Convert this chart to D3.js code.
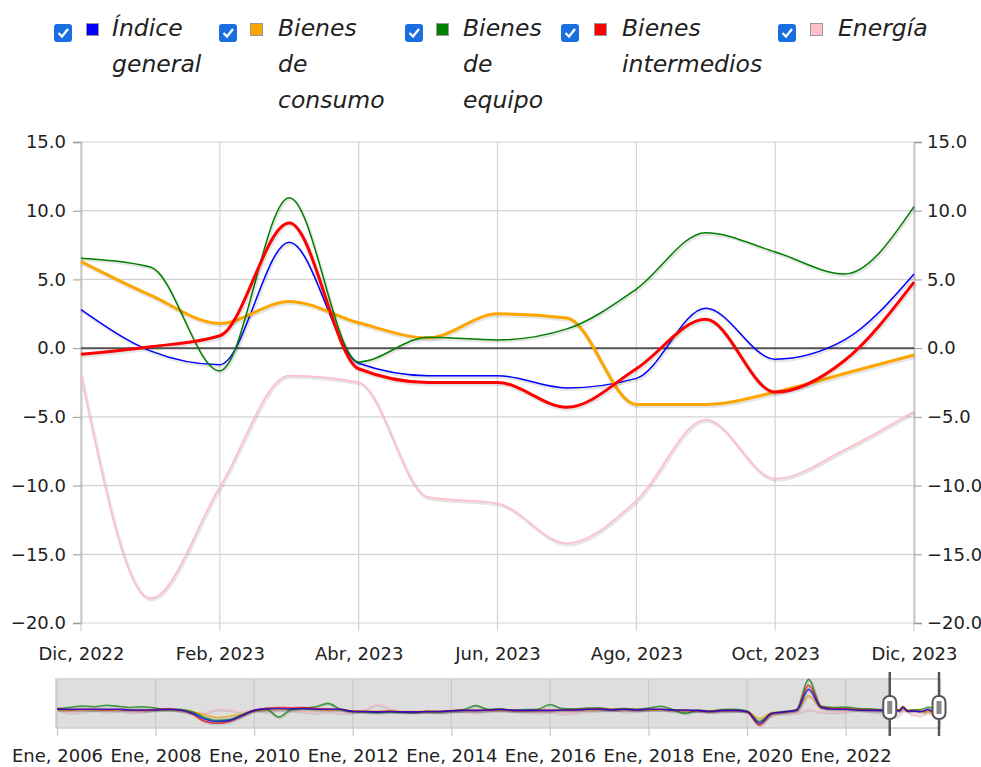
<!DOCTYPE html>
<html><head><meta charset="utf-8">
<script src="https://cdn.jsdelivr.net/npm/d3@7"></script>
<style>
body{margin:0;background:#fff;}
svg{display:block;font-family:"DejaVu Sans",Verdana,sans-serif;}
</style>
</head><body>
<svg id="c" width="981" height="767"></svg>
<script>
// ---- DATA ----
const months = ["Dic, 2022","Ene, 2023","Feb, 2023","Mar, 2023","Abr, 2023","May, 2023","Jun, 2023","Jul, 2023","Ago, 2023","Sep, 2023","Oct, 2023","Nov, 2023","Dic, 2023"];
const indiceGeneral     = [2.8, -0.2, -1.2, 7.7, -1.1, -2.0, -2.0, -2.9, -2.2, 2.9, -0.8, 0.6, 5.4];
const bienesConsumo     = [6.3, 3.85, 1.8, 3.4, 1.85, 0.75, 2.5, 2.2, -4.1, -4.1, -3.2, -1.85, -0.5];
const bienesEquipo      = [6.55, 5.9, -1.65, 10.95, -1.0, 0.8, 0.6, 1.4, 4.3, 8.4, 7.0, 5.4, 10.3];
const bienesIntermedios = [-0.45, 0.1, 0.9, 9.1, -1.5, -2.5, -2.5, -4.3, -1.5, 2.1, -3.2, -0.9, 4.8];
const energia           = [-1.95, -18.2, -10.1, -2.0, -2.5, -10.85, -11.3, -14.2, -11.1, -5.2, -9.5, -7.4, -4.6];
const yTicks = [-20, -15, -10, -5, 0, 5, 10, 15];
const xTickLabels = ["Dic, 2022","Feb, 2023","Abr, 2023","Jun, 2023","Ago, 2023","Oct, 2023","Dic, 2023"];

// navigator history (quarterly, Ene 2006 .. Oct 2022)
const navIndice = [3,3,3,3, 3,3,1,1, 1,3,1,-8, -24,-30,-27,-14, 0,4,5,4, 5,3,3,3, -3,-3,-4,-3, -4,-4,-3,-3, -1,0,0,1, 3,0,0,0, 0,1,1,3, 3,1,3,1, 3,3,1,1, 0,-3,0,0, -3,-35,-8,-4, 0,57,8,3, 3,1,0,0];
const navConsumo = [2,1,2,1, 2,1,1,0, 1,2,0,-4, -12,-19,-16,-9, -2,1,3,3, 3,2,1,1, -2,-2,-3,-2, -3,-3,-2,-2, 0,-1,0,1, 1,0,0,0, 1,1,0,2, 2,1,2,1, 2,1,1,1, 0,-1,1,0, -2,-22,-6,-3, 0,40,6,4, 5,3,2,1];
const navEquipo = [5,8,12,10, 14,11,8,10, 6,2,3,-4, -20,-27,-25,-12, 0,3,-18,2, 6,10,19,3, -3,-4,-6,-4, -5,-6,-3,-4, -1,2,13,3, 4,1,2,3, 16,5,4,6, 7,3,5,3, 6,11,2,-8, 1,-2,2,3, -2,-30,-8,-3, 2,84,12,8, 9,5,4,2];
const navIntermedios = [4,2,3,3, 2,3,1,1, 2,4,1,-10, -30,-35,-30,-16, 0,6,8,7, 8,5,4,3, -2,-3,-3,-2, -4,-4,-3,-3, -1,1,0,1, 2,0,-1,0, 0,1,2,3, 4,2,3,2, 3,3,1,0, -1,-3,-1,0, -4,-40,-10,-5, 1,68,10,5, 4,2,1,0];
const navEnergia = [4,-6,-3,2, -4,0,-5,-2, 3,6,-2,-6, -5,3,1,-4, 3,-4,2,0, -3,-6,-2,-7, -5,4,16,6, -2,-4,-3,-6, -3,-2,-5,-1, 0,-2,-4,-6, -3,-8,-6,-2, 0,3,-3,-2, 2,4,-2,-3, -2,-4,-3,-1, -3,-32,-12,-8, -6,3,-4,-5, -3,2,-2,-5];
const navTickLabels = ["Ene, 2006","Ene, 2008","Ene, 2010","Ene, 2012","Ene, 2014","Ene, 2016","Ene, 2018","Ene, 2020","Ene, 2022"];

const seriesNames = [["Índice","general"],["Bienes","de","consumo"],["Bienes","de","equipo"],["Bienes","intermedios"],["Energía"]];
const seriesColors = ["#0000ff","#ffa500","#008000","#ff0000","#ffc0cb"];
const seriesWidths = [1.5, 3, 1.5, 3, 1.8];
const seriesData = [indiceGeneral, bienesConsumo, bienesEquipo, bienesIntermedios, energia];
const navData = [navIndice, navConsumo, navEquipo, navIntermedios, navEnergia];
const legendX = [54, 219, 405, 561, 778];

// ---- DRAW ----
const svg = d3.select("#c");
const L = 81, R = 914, T = 142, B = 623;
const x = d3.scalePoint().domain(months).range([L, R]);
const y = d3.scaleLinear().domain([-20, 15]).range([B, T]);
const FS = 18;

// legend
seriesNames.forEach((nm, i) => {
  const g = svg.append("g").attr("transform", `translate(${legendX[i]},0)`);
  g.append("rect").attr("x", 0).attr("y", 24).attr("width", 18).attr("height", 18).attr("rx", 3).attr("fill", "#1a6fe0");
  g.append("path").attr("d", "M4.5,33 L8,36.5 L14,29").attr("fill", "none").attr("stroke", "#fff").attr("stroke-width", 2.3);
  const sq = [32, 31, 31, 33, 32][i];
  g.append("rect").attr("x", sq + 0.5).attr("y", 23.5).attr("width", 12).attr("height", 12).attr("fill", seriesColors[i]).attr("stroke", "#999").attr("stroke-width", 1);
  const tx = [58, 59, 58, 61, 60][i];
  nm.forEach((w, j) => {
    g.append("text").attr("x", tx).attr("y", 36 + j * 36).attr("font-size", 23.5).attr("font-style", "italic").attr("fill", "#222").text(w);
  });
});

// grid
const grid = svg.append("g");
yTicks.forEach(v => grid.append("line").attr("x1", L).attr("x2", R).attr("y1", y(v)).attr("y2", y(v)).attr("stroke", "#d3d3d3").attr("stroke-width", 1.2));
xTickLabels.forEach(m => grid.append("line").attr("x1", x(m)).attr("x2", x(m)).attr("y1", T).attr("y2", B + 8).attr("stroke", "#d3d3d3").attr("stroke-width", 1.2));

// axes
const fmt = d3.format(".1f");
const axL = svg.append("g").attr("transform", `translate(${L},0)`).call(d3.axisLeft(y).tickValues(yTicks).tickFormat(fmt).tickSize(8).tickPadding(7));
const axR = svg.append("g").attr("transform", `translate(${R},0)`).call(d3.axisRight(y).tickValues(yTicks).tickFormat(fmt).tickSize(8).tickPadding(5));
const axB = svg.append("g").attr("transform", `translate(0,${B})`).call(d3.axisBottom(x).tickValues(xTickLabels).tickSize(0).tickPadding(24));
[axL, axR, axB].forEach(a => {
  a.selectAll("text").attr("font-size", FS).attr("fill", "#222").attr("font-family", "DejaVu Sans, Verdana, sans-serif");
  a.selectAll(".domain").attr("stroke", "#c8c8c8").attr("stroke-width", 2);
  a.selectAll(".tick line").attr("stroke", "#999");
});
axB.select(".domain").remove();

// zero line
svg.append("line").attr("x1", L).attr("x2", R).attr("y1", y(0)).attr("y2", y(0)).attr("stroke", "#555").attr("stroke-width", 2);

// series
const line = d3.line().x((d, i) => x(months[i])).y(d => y(d)).curve(d3.curveMonotoneX);
const lg = svg.append("g");
seriesData.forEach((s, i) => {
  lg.append("path").attr("d", line(s)).attr("fill", "none").attr("stroke", "rgba(0,0,0,0.1)").attr("stroke-width", seriesWidths[i] + 1.5).attr("transform", "translate(1,1.5)");
  lg.append("path").attr("d", line(s)).attr("fill", "none").attr("stroke", seriesColors[i]).attr("stroke-width", seriesWidths[i]);
});

// ---- navigator ----
const NL = 56, NR = 940, NT = 679, NB = 728;
const navDates = d3.timeMonth.every(3).range(new Date(2006, 0, 1), new Date(2022, 11, 1));
const mainDates = d3.timeMonth.range(new Date(2022, 11, 1), new Date(2024, 0, 1));
const nx = d3.scaleTime().domain([new Date(2006, 0, 1), new Date(2023, 11, 1)]).range([57, 940]);
const ny = d3.scaleLinear().domain([-45, 85]).range([727, 679]);
const selL = nx(new Date(2022, 11, 1)) - 1, selR = 939;

svg.append("rect").attr("x", NL).attr("y", NT).attr("width", NR - NL).attr("height", NB - NT).attr("fill", "#dedede").attr("stroke", "#cfcfcf").attr("stroke-width", 1.5);
svg.append("rect").attr("x", selL).attr("y", NT).attr("width", selR - selL).attr("height", NB - NT).attr("fill", "#fff");
svg.append("line").attr("x1", selL).attr("x2", NR).attr("y1", NT).attr("y2", NT).attr("stroke", "#cfcfcf").attr("stroke-width", 1.5);
svg.append("line").attr("x1", selL).attr("x2", NR).attr("y1", NB).attr("y2", NB).attr("stroke", "#cfcfcf").attr("stroke-width", 1.5);

const navTickDates = navTickLabels.map((t, i) => new Date(2006 + 2 * i, 0, 1));
navTickDates.forEach(d => {
  svg.append("line").attr("x1", nx(d)).attr("x2", nx(d)).attr("y1", NT).attr("y2", NB).attr("stroke", "#c8c8c8").attr("stroke-width", 1.2);
});
const axN = svg.append("g").attr("transform", `translate(0,${NB})`)
  .call(d3.axisBottom(nx).tickValues(navTickDates).tickFormat((d, i) => navTickLabels[i]).tickSize(8).tickPadding(13));
axN.select(".domain").remove();
axN.selectAll(".tick line").attr("stroke", "#c8c8c8").attr("stroke-width", 1.2);
axN.selectAll("text").attr("font-size", FS).attr("fill", "#222").attr("font-family", "DejaVu Sans, Verdana, sans-serif");

const allDates = navDates.concat(mainDates);
const navLine = d3.line().x((d, i) => nx(allDates[i])).y(d => ny(d)).curve(d3.curveMonotoneX);
const navOrder = [4, 1, 2, 3, 0];
navOrder.forEach(i => {
  const vals = navData[i].concat(seriesData[i]);
  svg.append("path").attr("d", navLine(vals)).attr("fill", "none").attr("stroke", "rgba(0,0,0,0.1)").attr("stroke-width", 2.5).attr("transform", "translate(1,1)");
  svg.append("path").attr("d", navLine(vals)).attr("fill", "none").attr("stroke", seriesColors[i]).attr("stroke-opacity", 0.7).attr("stroke-width", 1.6);
});

// handles
[selL, selR].forEach(hx => {
  svg.append("line").attr("x1", hx).attr("x2", hx).attr("y1", 672).attr("y2", 736).attr("stroke", "#555").attr("stroke-width", 2.5);
  svg.append("rect").attr("x", hx - 6.5).attr("y", 696).attr("width", 13).attr("height", 23).attr("rx", 6).attr("fill", "#fff").attr("stroke", "#555").attr("stroke-width", 2);
  svg.append("rect").attr("x", hx - 2.5).attr("y", 701).attr("width", 5).attr("height", 13).attr("fill", "#888");
});
</script>
</body></html>
